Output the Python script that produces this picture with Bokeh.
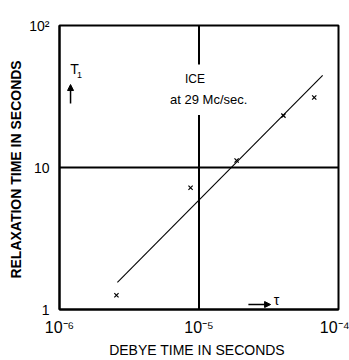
from bokeh.plotting import figure
from bokeh.models import (FixedTicker, CustomJSTickFormatter, Span, Label, Arrow,
                          NormalHead)
from bokeh.embed import file_html
from bokeh.resources import INLINE

# ---- data ----
x_ticks = [1e-6, 1e-5, 1e-4]
x_tick_labels = ["10⁻⁶", "10⁻⁵", "10⁻⁴"]
y_ticks = [1, 10, 100]
y_tick_labels = ["1", "10", "10²"]

fit_x = [2.6e-6, 7.7e-5]
fit_y = [1.55, 44.5]

pts_x = [2.56e-6, 8.7e-6, 1.86e-5, 4.03e-5, 6.7e-5]
pts_y = [1.26, 7.2, 11.2, 23.2, 31.1]

FONT = "Liberation Sans"

p = figure(width=349, height=360, x_axis_type="log", y_axis_type="log",
           x_range=(1e-6, 1e-4), y_range=(1, 100),
           output_backend="svg", toolbar_location=None,
           min_border_left=59, min_border_right=11,
           min_border_top=25, min_border_bottom=51)

p.grid.visible = False
p.background_fill_color = "white"
p.border_fill_color = "white"
p.outline_line_color = "black"
p.outline_line_width = 2
p.outline_line_alpha = 1.0

fmt_code = """
const e = Math.log10(tick);
for (let i = 0; i < vals.length; i++) {
  if (Math.abs(Math.log10(vals[i]) - e) < 1e-6) return labs[i];
}
return "";
"""

p.xaxis.ticker = FixedTicker(ticks=x_ticks, minor_ticks=[])
p.yaxis.ticker = FixedTicker(ticks=y_ticks, minor_ticks=[])
p.xaxis.formatter = CustomJSTickFormatter(args=dict(vals=x_ticks, labs=x_tick_labels), code=fmt_code)
p.yaxis.formatter = CustomJSTickFormatter(args=dict(vals=y_ticks, labs=y_tick_labels), code=fmt_code)

for ax in (p.xaxis[0], p.yaxis[0]):
    ax.axis_line_color = "black"
    ax.axis_line_width = 2
    ax.major_tick_line_color = None
    ax.minor_tick_line_color = None
    ax.major_tick_in = 0
    ax.major_tick_out = 0
    ax.major_label_text_font = FONT
    ax.major_label_text_color = "black"
    ax.axis_label_text_font = FONT
    ax.axis_label_text_color = "black"
    ax.axis_label_text_font_style = "normal"

p.xaxis.major_label_text_font_size = "16px"
p.xaxis.major_label_standoff = 9
p.xaxis.axis_label = "DEBYE  TIME IN SECONDS"
p.xaxis.axis_label_text_font_size = "14px"
p.xaxis.axis_label_standoff = 3

p.yaxis.major_label_text_font_size = "14px"
p.yaxis.major_label_standoff = 10
p.yaxis.axis_label = "RELAXATION  TIME IN SECONDS"
p.yaxis.axis_label_text_font_size = "14px"
p.yaxis.axis_label_text_font_style = "bold"
p.yaxis.axis_label_standoff = 2

# reference lines at the middle decade
p.add_layout(Span(location=1e-5, dimension="height", line_color="black", line_width=2))
p.add_layout(Span(location=10, dimension="width", line_color="black", line_width=2))

# fitted line and points
p.line(fit_x, fit_y, line_color="black", line_width=1.1)
p.scatter(pts_x, pts_y, marker="x", size=6, line_color="black", line_width=1.2)

# text annotations
p.add_layout(Label(x=9.35e-6, y=41.7, text="ICE", text_align="center", text_baseline="middle",
                   text_font=FONT, text_font_size="12px", text_color="black",
                   background_fill_color="white", padding=8))
p.add_layout(Label(x=1.21e-5, y=30.1, text="at 29  Mc/sec.", text_align="center",
                   text_baseline="middle", text_font=FONT, text_font_size="13px",
                   text_color="black", background_fill_color="white", padding=8))

p.add_layout(Label(x=1.28e-6, y=49, text="T", text_align="center", text_baseline="middle",
                   text_font=FONT, text_font_size="14px", text_color="black"))
p.add_layout(Label(x=1.39e-6, y=44.5, text="1", text_align="center", text_baseline="middle",
                   text_font=FONT, text_font_size="9px", text_color="black"))
p.add_layout(Arrow(end=NormalHead(size=6, fill_color="black", line_color="black"),
                   x_start=1.2e-6, y_start=28.2, x_end=1.2e-6, y_end=38.4,
                   line_color="black", line_width=1.5))

p.add_layout(Arrow(end=NormalHead(size=6, fill_color="black", line_color="black"),
                   x_start=2.26e-5, y_start=1.084, x_end=3.26e-5, y_end=1.084,
                   line_color="black", line_width=1.5))
p.add_layout(Label(x=3.6e-5, y=1.16, text="τ", text_align="center", text_baseline="middle",
                   text_font=FONT, text_font_size="14px", text_color="black"))

open("out.html", "w").write(file_html(p, INLINE))
